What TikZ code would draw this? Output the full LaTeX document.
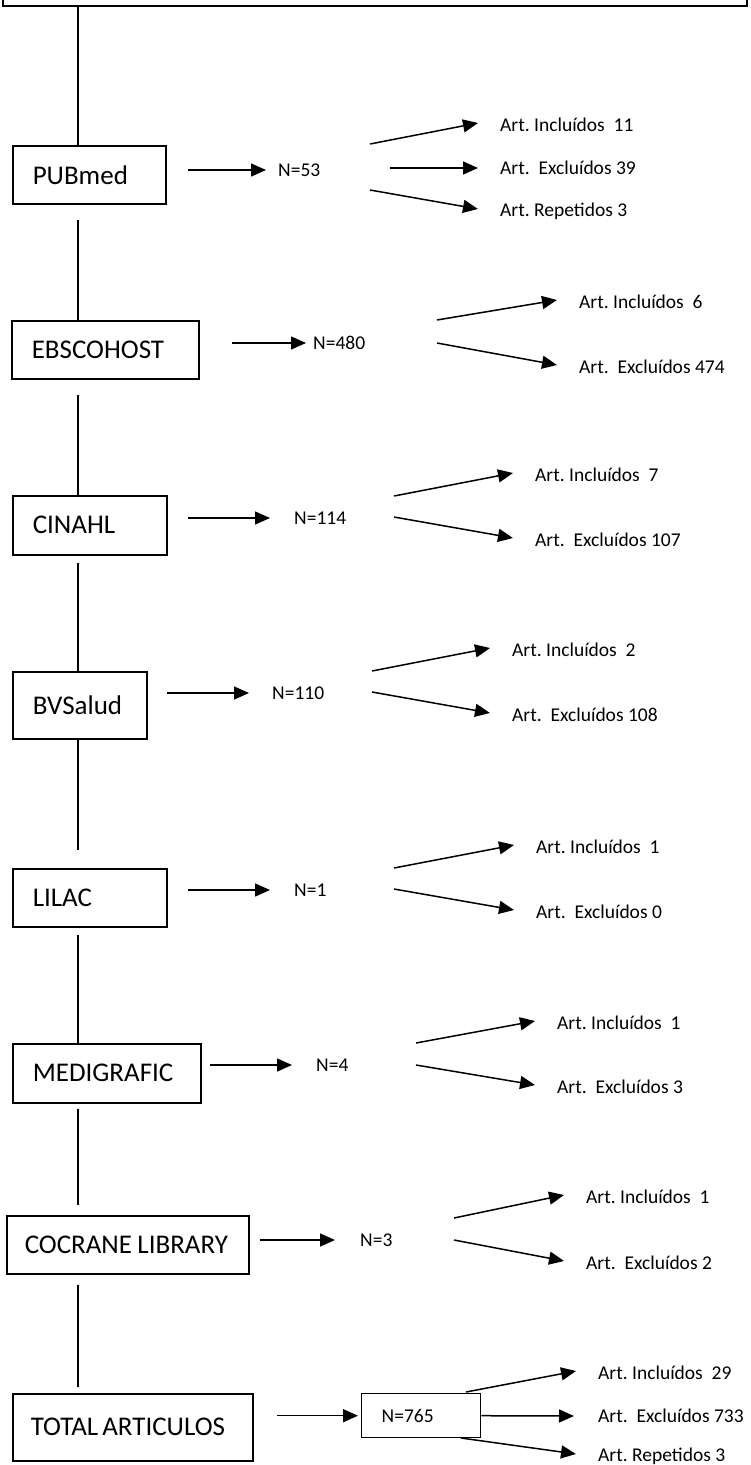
\documentclass[tikz,border=0pt]{standalone}
\usepackage{fontspec}
\setmainfont{Carlito}
\usetikzlibrary{arrows.meta,calc}
\begin{document}
\frenchspacing
\begin{tikzpicture}[x=1pt,y=-1pt,
  dbbox/.style={draw, line width=1.5pt, anchor=north west, inner xsep=20pt, inner ysep=0pt, align=left, font=\fontsize{27}{30}\selectfont},
  nlab/.style={anchor=west, inner sep=0pt, font=\fontsize{19.5}{22}\selectfont},
  alab/.style={anchor=west, inner sep=0pt, font=\fontsize{19.5}{22}\selectfont},
  spineline/.style={line width=1.4pt},
  arr/.style={line width=1.5pt, -{Triangle[length=15pt,width=13pt]}},
]
\useasboundingbox (0,0) rectangle (750,1465);
\fill[white] (0,0) rectangle (750,1465);
\clip (0,0) rectangle (750,1465);

% top (cut off) box
\node[draw, line width=1.5pt, minimum width=744pt, minimum height=60pt] (top) at (375,-24) {};

% database boxes
\node[dbbox, text width=113pt, minimum height=58pt] (pub) at (12,145) {PUBmed};
\node[dbbox, text width=147pt, minimum height=58pt] (ebsco) at (11,320) {EBSCOHOST};
\node[dbbox, text width=114pt, minimum height=59pt] (cinahl) at (12,495) {CINAHL};
\node[dbbox, text width=94pt, minimum height=67pt] (bvs) at (12,671) {BVSalud};
\node[dbbox, text width=114pt, minimum height=58pt] (lilac) at (12,868) {LILAC};
\node[dbbox, text width=148pt, minimum height=59pt] (medi) at (12,1043) {MEDIGRAFIC};
\node[dbbox, inner xsep=18pt, text width=206pt, minimum height=58pt] (cocrane) at (6,1215) {\mbox{COCRANE\hspace{0.2em}LIBRARY}};
\node[dbbox, inner xsep=18pt, text width=204pt, minimum height=67pt] (total) at (12,1393) {\mbox{TOTAL\hspace{0.15em}ARTICULOS}};

% N nodes
\node[nlab] (n1) at (278,170) {N=53};
\node[nlab] (n2) at (313,343) {N=480};
\node[nlab] (n3) at (294,518) {N=114};
\node[nlab] (n4) at (272,693) {N=110};
\node[nlab] (n5) at (294,890) {N=1};
\node[nlab] (n6) at (316,1065) {N=4};
\node[nlab] (n7) at (360,1240) {N=3};
\node[draw, line width=1.4pt, anchor=north west, text width=79pt, inner xsep=20pt, inner ysep=0pt, minimum height=44pt, align=left, font=\fontsize{19.5}{22}\selectfont] (n8) at (361,1393) {N=765};

% result labels
\node[alab] (a11) at (500,125) {Art.\ Incluídos\ \ 11};
\node[alab] (a12) at (500,168) {Art.\ \ Excluídos 39};
\node[alab] (a13) at (500,211) {Art.\ Repetidos 3};
\node[alab] (a21) at (579,302) {Art.\ Incluídos\ \ 6};
\node[alab] (a22) at (579,367) {Art.\ \ Excluídos 474};
\node[alab] (a31) at (535,475) {Art.\ Incluídos\ \ 7};
\node[alab] (a32) at (535,540) {Art.\ \ Excluídos 107};
\node[alab] (a41) at (512,650) {Art.\ Incluídos\ \ 2};
\node[alab] (a42) at (512,715) {Art.\ \ Excluídos 108};
\node[alab] (a51) at (536,847) {Art.\ Incluídos\ \ 1};
\node[alab] (a52) at (536,912) {Art.\ \ Excluídos 0};
\node[alab] (a61) at (557,1023) {Art.\ Incluídos\ \ 1};
\node[alab] (a62) at (557,1087) {Art.\ \ Excluídos 3};
\node[alab] (a71) at (586,1197) {Art.\ Incluídos\ \ 1};
\node[alab] (a72) at (586,1263) {Art.\ \ Excluídos 2};
\node[alab] (a81) at (598,1373) {Art.\ Incluídos\ \ 29};
\node[alab] (a82) at (598,1416) {Art.\ \ Excluídos 733};
\node[alab] (a83) at (598,1456) {Art.\ Repetidos 3};

% branch start points
\coordinate (s11) at (370,144);
\coordinate (s12) at (390,168);
\coordinate (s13) at (370,190);
\coordinate (s21) at (437,320);
\coordinate (s22) at (437,343);
\coordinate (s31) at (394,496);
\coordinate (s32) at (394,517);
\coordinate (s41) at (372,671);
\coordinate (s42) at (372,692);
\coordinate (s51) at (394,868);
\coordinate (s52) at (394,889);
\coordinate (s61) at (416,1043);
\coordinate (s62) at (416,1065);
\coordinate (s71) at (454,1218);
\coordinate (s72) at (454,1240);
\coordinate (s81) at (466,1392);
\coordinate (s83) at (461,1438);

% spine
\coordinate (spine) at (78,0);
\draw[spineline] (top.south -| spine) -- (pub.north -| spine);
\draw[spineline, shorten <=15pt] (pub.south -| spine) -- (ebsco.north -| spine);
\draw[spineline, shorten <=15pt] (ebsco.south -| spine) -- (cinahl.north -| spine);
\draw[spineline, shorten <=7pt] (cinahl.south -| spine) -- (bvs.north -| spine);
\draw[spineline, shorten >=18pt] (bvs.south -| spine) -- (lilac.north -| spine);
\draw[spineline, shorten <=7pt] (lilac.south -| spine) -- (medi.north -| spine);
\draw[spineline, shorten <=5pt, shorten >=10pt] (medi.south -| spine) -- (cocrane.north -| spine);
\draw[spineline, shorten <=10pt, shorten >=6pt] (cocrane.south -| spine) -- (total.north -| spine);

% main arrows
\draw[arr, shorten <=21pt, shorten >=12pt] (pub.east |- n1.west) -- (n1.west);
\draw[arr, shorten <=32pt, shorten >=7pt] (ebsco.east |- n2.west) -- (n2.west);
\draw[arr, shorten <=20pt, shorten >=24pt] (cinahl.east |- n3.west) -- (n3.west);
\draw[arr, shorten <=19pt, shorten >=23pt] (bvs.east |- n4.west) -- (n4.west);
\draw[arr, shorten <=20pt, shorten >=24pt] (lilac.east |- n5.west) -- (n5.west);
\draw[arr, shorten <=8pt, shorten >=24pt] (medi.east |- n6.west) -- (n6.west);
\draw[arr, shorten <=10pt, shorten >=25pt] (cocrane.east |- n7.west) -- (n7.west);
\draw[arr, shorten <=23pt, shorten >=3pt] (total.east |- n8.west) -- (n8.west);

% branch arrows
\foreach \s/\t in {s11/a11, s13/a13, s21/a21, s22/a22, s31/a31, s32/a32, s41/a41, s42/a42, s51/a51, s52/a52, s61/a61, s62/a62, s71/a71, s72/a72, s81/a81, s83/a83}
  \draw[arr] (\s) -- ([xshift=-22pt,yshift=2pt]\t.west);
\draw[arr] (s12) -- ([xshift=-22pt]a12.west);
\draw[arr] (n8.east) -- ([xshift=-24pt]a82.west);
\end{tikzpicture}
\end{document}
